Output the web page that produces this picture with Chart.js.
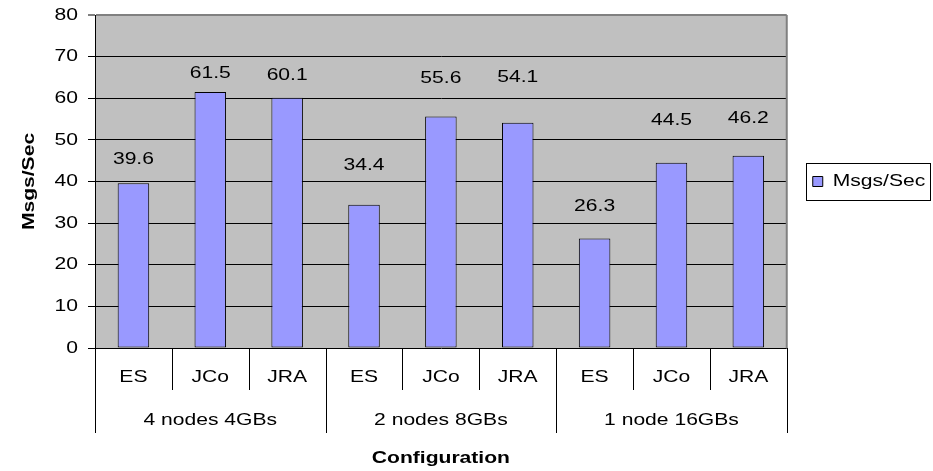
<!DOCTYPE html>
<html>
<head>
<meta charset="utf-8">
<script src="https://cdn.jsdelivr.net/npm/chart.js@4/dist/chart.umd.min.js"></script>
<style>
  html, body { margin: 0; padding: 0; background: #fff; }
  #wrap { width: 933px; height: 471px; }
</style>
</head>
<body>
<div id="wrap"><canvas id="c"></canvas></div>
<script>
// Throughput per configuration, grouped by cluster layout
const configs = ['ES', 'JCo', 'JRA', 'ES', 'JCo', 'JRA', 'ES', 'JCo', 'JRA'];
const groups = ['4 nodes 4GBs', '2 nodes 8GBs', '1 node 16GBs'];
const groupSize = 3;
const msgsPerSec = [39.6, 61.5, 60.1, 34.4, 55.6, 54.1, 26.3, 44.5, 46.2];
const yMin = 0, yMax = 80, yStep = 10;

// Text style: Arial-like face, drawn slightly widened
const FONT = 'Arial, "Liberation Sans", sans-serif';
const FS = 17;
const WIDEN = 1.24;
// Vertical gap (px) between each bar top and its value label
const labelLift = [24, 19, 23, 39, 38, 45, 32, 42, 37];

function wideText(ctx, text, x, y, align, bold, rotate) {
  ctx.save();
  ctx.translate(x, y);
  if (rotate) ctx.rotate(-Math.PI / 2);
  ctx.scale(WIDEN, 1);
  ctx.font = (bold ? 'bold ' : '') + FS + 'px ' + FONT;
  ctx.fillStyle = '#000';
  ctx.textAlign = align;
  ctx.textBaseline = 'middle';
  ctx.fillText(text, 0, 0);
  ctx.restore();
}

// Grey plot background
const plotBackground = {
  id: 'plotBackground',
  beforeDraw(chart) {
    const { ctx, chartArea: a } = chart;
    ctx.save();
    ctx.fillStyle = '#C0C0C0';
    ctx.fillRect(a.left, a.top, a.right - a.left, a.bottom - a.top);
    ctx.restore();
  }
};

// Plot frame, all text, two-level category axis, legend frame
const decorations = {
  id: 'decorations',
  afterDraw(chart) {
    const { ctx, chartArea: a } = chart;
    const x = chart.scales.x;
    const y = chart.scales.y;
    ctx.save();

    // right edge of plot area
    ctx.strokeStyle = '#808080';
    ctx.lineWidth = 2;
    ctx.beginPath();
    ctx.moveTo(a.right, a.top);
    ctx.lineTo(a.right, a.bottom);
    ctx.stroke();

    // value axis labels and title
    y.ticks.forEach(t => {
      wideText(ctx, String(t.value), a.left - 17, y.getPixelForValue(t.value), 'right');
    });
    wideText(ctx, 'Msgs/Sec', 29, (a.top + a.bottom) / 2, 'center', true, true);

    // value labels above bars
    const meta = chart.getDatasetMeta(0);
    meta.data.forEach((bar, i) => {
      wideText(ctx, msgsPerSec[i].toFixed(1), bar.x, bar.y - labelLift[i], 'center');
    });

    // separators between categories and groups
    ctx.strokeStyle = '#000';
    ctx.lineWidth = 1;
    const half = (x.getPixelForValue(1) - x.getPixelForValue(0)) / 2;
    for (let i = 0; i <= configs.length; i++) {
      const px = Math.round(i < configs.length ? x.getPixelForValue(i) - half : x.getPixelForValue(i - 1) + half) + 0.5;
      const isGroupEdge = i % groupSize === 0;
      ctx.beginPath();
      ctx.moveTo(px, a.bottom);
      ctx.lineTo(px, a.bottom + (isGroupEdge ? 85 : 42));
      ctx.stroke();
    }

    // category labels
    configs.forEach((c, i) => {
      wideText(ctx, c, x.getPixelForValue(i), a.bottom + 29, 'center');
    });

    // group labels
    groups.forEach((g, gi) => {
      const first = gi * groupSize, last = first + groupSize - 1;
      const cx = (x.getPixelForValue(first) + x.getPixelForValue(last)) / 2;
      wideText(ctx, g, cx, a.bottom + 72, 'center');
    });

    // category axis title
    wideText(ctx, 'Configuration', (a.left + a.right) / 2, a.bottom + 110, 'center', true);

    // legend text and frame
    const lg = chart.legend;
    if (lg && lg.legendHitBoxes && lg.legendHitBoxes.length) {
      const hb = lg.legendHitBoxes[0];
      const cy = hb.top + hb.height / 2;
      wideText(ctx, chart.data.datasets[0].label, hb.left + 20, cy, 'left');
      ctx.strokeStyle = '#000';
      ctx.lineWidth = 1;
      ctx.strokeRect(Math.round(hb.left - 7) + 0.5, Math.round(cy - 19) + 0.5, 124, 37);
    }
    ctx.restore();
  }
};

new Chart(document.getElementById('c'), {
  type: 'bar',
  data: {
    labels: configs,
    datasets: [{
      label: 'Msgs/Sec',
      data: msgsPerSec,
      backgroundColor: '#9999FF',
      borderColor: '#000000',
      borderWidth: 1,
      borderSkipped: false,
      categoryPercentage: 1,
      barPercentage: 0.41
    }]
  },
  options: {
    responsive: true,
    maintainAspectRatio: false,
    animation: false,
    events: [],
    layout: { padding: { top: 15, right: 22, bottom: 0, left: 0 } },
    plugins: {
      legend: {
        position: 'right',
        fullSize: false,
        labels: {
          color: 'rgba(0,0,0,0)',
          font: { family: FONT, size: 16 },
          boxWidth: 10,
          boxHeight: 10,
          padding: 26
        }
      },
      tooltip: { enabled: false },
      title: { display: false }
    },
    scales: {
      x: {
        grid: { display: false },
        border: { display: false },
        ticks: { display: false },
        afterFit(scale) { scale.height = 123; }
      },
      y: {
        min: yMin,
        max: yMax,
        ticks: {
          stepSize: yStep,
          color: 'rgba(0,0,0,0)',
          font: { family: FONT, size: 16 },
          padding: 4
        },
        grid: {
          color: ctx => (ctx.tick && ctx.tick.value === yMax ? '#808080' : '#000'),
          lineWidth: ctx => (ctx.tick && ctx.tick.value === yMax ? 2 : 1),
          tickLength: 7,
          tickColor: '#000',
          tickWidth: 1
        },
        border: { display: true, color: '#000', width: 1 },
        afterFit(scale) { scale.width = 95; }
      }
    }
  },
  plugins: [plotBackground, decorations]
});
</script>
</body>
</html>
